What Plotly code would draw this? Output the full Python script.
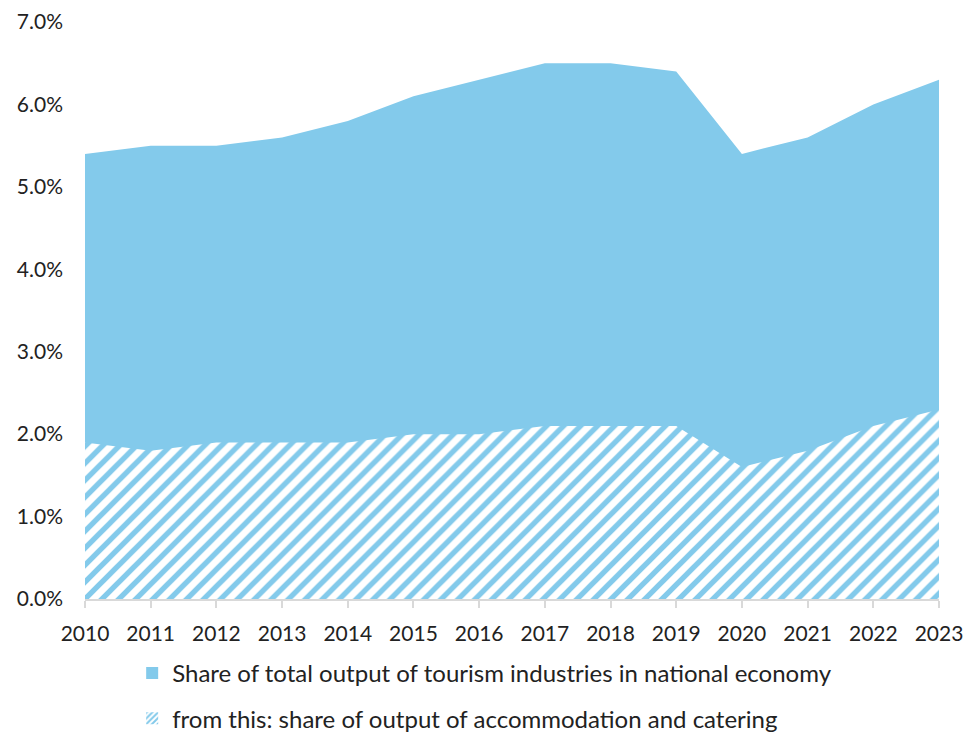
import plotly.graph_objects as go

years = [2010, 2011, 2012, 2013, 2014, 2015, 2016, 2017, 2018, 2019, 2020, 2021, 2022, 2023]
tourism_share = [5.4, 5.5, 5.5, 5.6, 5.8, 6.1, 6.3, 6.5, 6.5, 6.4, 5.4, 5.6, 6.0, 6.3]
accommodation_share = [1.9, 1.8, 1.9, 1.9, 1.9, 2.0, 2.0, 2.1, 2.1, 2.1, 1.6, 1.8, 2.1, 2.3]
y_ticks = [0, 1, 2, 3, 4, 5, 6, 7]
y_tick_labels = [f"{v:.1f}%" for v in y_ticks]
names = [
    "Share of total output of tourism industries in national economy",
    "from this: share of output of accommodation and catering",
]

BLUE = "#83CAEB"
FONT = "Lato"
TEXT = "#222222"
hatch = dict(shape="/", fgcolor=BLUE, bgcolor="white", size=12, solidity=0.45, fgopacity=1)

fig = go.Figure()
# stacked areas (legend handled by the square swatches below)
fig.add_trace(go.Scatter(
    x=years, y=tourism_share, name=names[0], showlegend=False,
    mode="lines", line=dict(width=0, color=BLUE),
    fill="tozeroy", fillcolor=BLUE,
))
fig.add_trace(go.Scatter(
    x=years, y=accommodation_share, name=names[1], showlegend=False,
    mode="lines", line=dict(width=0, color=BLUE),
    fill="tozeroy", fillcolor="white", fillpattern=hatch,
))
# square legend swatches
fig.add_trace(go.Bar(
    x=[None], y=[None], name=names[0], legendgroup="a",
    marker=dict(color=BLUE, line=dict(width=0)),
))
fig.add_trace(go.Bar(
    x=[None], y=[None], name=names[1], legendgroup="b",
    marker=dict(color="white", pattern=dict(shape="/", fgcolor=BLUE, bgcolor="white",
                                             size=5, solidity=0.5, fgopacity=1),
                line=dict(width=0)),
))

fig.update_layout(
    width=967, height=733,
    margin=dict(l=85, r=28, t=22, b=134),
    paper_bgcolor="white", plot_bgcolor="white",
    font=dict(family=FONT, size=21, color=TEXT),
    showlegend=True,
    legend=dict(
        orientation="v", x=0.468, xanchor="center",
        yref="container", y=0.112, yanchor="top",
        font=dict(family=FONT, size=24, color=TEXT),
        tracegroupgap=11, itemwidth=30,
    ),
    xaxis=dict(
        range=[2010, 2023], tickmode="array", tickvals=years,
        ticktext=[str(y) for y in years], automargin=False,
        showgrid=False, zeroline=False,
        showline=True, linecolor="#D9D9D9", linewidth=2,
        ticks="outside", ticklen=7, tickcolor="#D9D9D9", tickwidth=2,
        ticklabelstandoff=8,
        tickfont=dict(family=FONT, size=21, color=TEXT),
    ),
    yaxis=dict(
        range=[0, 7], tickmode="array", tickvals=y_ticks, ticktext=y_tick_labels,
        showgrid=False, zeroline=False, showline=False, automargin=False,
        ticks="", ticklabelstandoff=21,
        tickfont=dict(family=FONT, size=21, color=TEXT),
    ),
)

fig.write_html("out.html")
